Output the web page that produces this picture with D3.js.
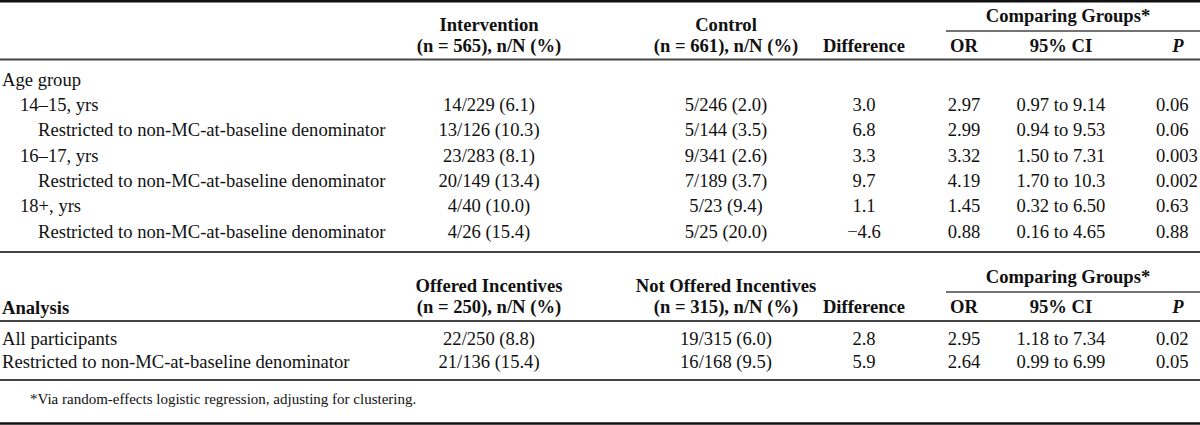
<!DOCTYPE html>
<html>
<head>
<meta charset="utf-8">
<script src="https://cdn.jsdelivr.net/npm/d3@7"></script>
<style>
  html, body { margin: 0; padding: 0; background: #fff; }
  svg { display: block; }
  text { font-family: "Liberation Serif", "Times New Roman", serif; fill: #111; }
  .b { font-weight: bold; }
</style>
</head>
<body>
<svg id="chart" width="1200" height="425"></svg>
<script>
// ---- Data: Table 1 (age groups) ----
const rowLabels1 = [
  "Age group",
  "14\u201315, yrs",
  "Restricted to non-MC-at-baseline denominator",
  "16\u201317, yrs",
  "Restricted to non-MC-at-baseline denominator",
  "18+, yrs",
  "Restricted to non-MC-at-baseline denominator"
];
const rowIndent1 = [0, 1, 2, 1, 2, 1, 2];
const intervention = ["", "14/229 (6.1)", "13/126 (10.3)", "23/283 (8.1)", "20/149 (13.4)", "4/40 (10.0)", "4/26 (15.4)"];
const control = ["", "5/246 (2.0)", "5/144 (3.5)", "9/341 (2.6)", "7/189 (3.7)", "5/23 (9.4)", "5/25 (20.0)"];
const difference1 = ["", "3.0", "6.8", "3.3", "9.7", "1.1", "\u22124.6"];
const or1 = ["", "2.97", "2.99", "3.32", "4.19", "1.45", "0.88"];
const ci1 = ["", "0.97 to 9.14", "0.94 to 9.53", "1.50 to 7.31", "1.70 to 10.3", "0.32 to 6.50", "0.16 to 4.65"];
const p1 = ["", "0.06", "0.06", "0.003", "0.002", "0.63", "0.88"];

// ---- Data: Table 2 (incentives) ----
const rowLabels2 = ["All participants", "Restricted to non-MC-at-baseline denominator"];
const offered = ["22/250 (8.8)", "21/136 (15.4)"];
const notOffered = ["19/315 (6.0)", "16/168 (9.5)"];
const difference2 = ["2.8", "5.9"];
const or2 = ["2.95", "2.64"];
const ci2 = ["1.18 to 7.34", "0.99 to 6.99"];
const p2 = ["0.02", "0.05"];

// ---- Header texts ----
const head1 = ["Intervention", "(n = 565), n/N (%)", "Control", "(n = 661), n/N (%)"];
const head2 = ["Offered Incentives", "(n = 250), n/N (%)", "Not Offered Incentives", "(n = 315), n/N (%)"];
const subHeads = ["Difference", "OR", "95% CI", "P"];
const groupHead = "Comparing Groups*";
const footnote = "*Via random-effects logistic regression, adjusting for clustering.";

const svg = d3.select("#chart");
const FS = 18.6;

// column positions via scales
const colX = d3.scaleOrdinal()
  .domain(["label", "g1", "g2", "diff", "or", "ci", "p"])
  .range([2, 489, 726, 864, 964, 1061, 1156]);
const indentX = d3.scaleLinear().domain([0, 2]).range([2, 38]);

// row positions via scales
const y1 = d3.scalePoint().domain(d3.range(rowLabels1.length)).range([79, 231]);
const y2 = d3.scalePoint().domain(d3.range(rowLabels2.length)).range([338, 361]);

function txt(x, y, s, anchor, cls, size) {
  return svg.append("text")
    .attr("x", x).attr("y", y).attr("dy", "0.35em")
    .attr("text-anchor", anchor || "start")
    .attr("class", cls || null)
    .style("font-size", (size || FS) + "px")
    .text(s);
}
function hline(x1, x2, y, w, c) {
  svg.append("line").attr("x1", x1).attr("x2", x2).attr("y1", y).attr("y2", y)
    .attr("stroke", c || "#333").attr("stroke-width", w || 1.6);
}

// ---- Rules ----
hline(0, 1200, 1.2, 2.4, "#111");
hline(0, 1200, 59.5, 1.8, "#444");
hline(946, 1200, 31, 1.4, "#444");
hline(0, 1200, 252, 1.8, "#444");
hline(946, 1200, 292, 1.4, "#444");
hline(0, 1200, 321, 1.8, "#444");
hline(0, 1200, 380, 1.8, "#444");
hline(0, 1200, 423.5, 2.6, "#111");

// ---- Headers ----
function header(top, heads, withAnalysis) {
  txt(colX("g1"), top + 24, heads[0], "middle", "b");
  txt(colX("g1"), top + 45, heads[1], "middle", "b");
  txt(colX("g2"), top + 24, heads[2], "middle", "b");
  txt(colX("g2"), top + 45, heads[3], "middle", "b");
  txt(colX("diff"), top + 45, subHeads[0], "middle", "b");
  txt(colX("or"), top + 45, subHeads[1], "middle", "b");
  txt(colX("ci"), top + 45, subHeads[2], "middle", "b");
  txt(1178, top + 45, subHeads[3], "middle", "b").style("font-style", "italic");
  txt(1068, top + 15, groupHead, "middle", "b");
  if (withAnalysis) txt(colX("label"), top + 46, "Analysis", "start", "b");
}
header(0, head1, false);
header(261, head2, true);

// ---- Body table 1 ----
const cols1 = [["g1", intervention, "middle"], ["g2", control, "middle"], ["diff", difference1, "middle"],
               ["or", or1, "middle"], ["ci", ci1, "middle"], ["p", p1, "start"]];
const g1 = svg.append("g");
g1.selectAll("text.lab").data(rowLabels1).join("text")
  .attr("class", "lab")
  .attr("x", (d, i) => indentX(rowIndent1[i]))
  .attr("y", (d, i) => y1(i)).attr("dy", "0.35em")
  .style("font-size", FS + "px").text(d => d);
cols1.forEach(([k, arr, anc]) => {
  g1.selectAll(null).data(arr).join("text")
    .attr("x", colX(k)).attr("y", (d, i) => y1(i)).attr("dy", "0.35em")
    .attr("text-anchor", anc).style("font-size", FS + "px").text(d => d);
});

// ---- Body table 2 ----
const cols2 = [["g1", offered, "middle"], ["g2", notOffered, "middle"], ["diff", difference2, "middle"],
               ["or", or2, "middle"], ["ci", ci2, "middle"], ["p", p2, "start"]];
const g2 = svg.append("g");
g2.selectAll("text.lab").data(rowLabels2).join("text")
  .attr("class", "lab")
  .attr("x", colX("label")).attr("y", (d, i) => y2(i)).attr("dy", "0.35em")
  .style("font-size", FS + "px").text(d => d);
cols2.forEach(([k, arr, anc]) => {
  g2.selectAll(null).data(arr).join("text")
    .attr("x", colX(k)).attr("y", (d, i) => y2(i)).attr("dy", "0.35em")
    .attr("text-anchor", anc).style("font-size", FS + "px").text(d => d);
});

// ---- Footnote ----
txt(30, 399, footnote, "start", null, 15);
</script>
</body>
</html>
